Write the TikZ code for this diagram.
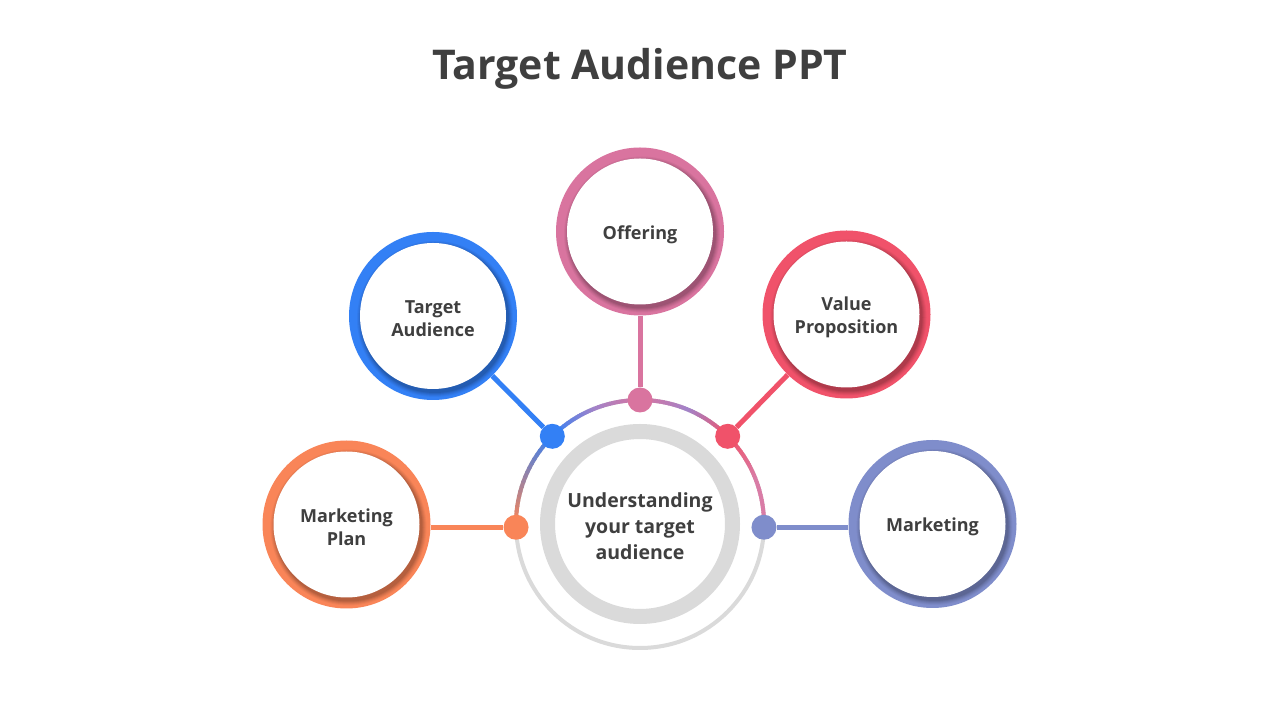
\documentclass[tikz,border=0pt]{standalone}
\usepackage{fontspec}
\setmainfont{Open Sans}
\usetikzlibrary{calc}
\definecolor{txt}{HTML}{3F3F3F}
\definecolor{cblue}{HTML}{3380F5}
\definecolor{cpink}{HTML}{D9749F}
\definecolor{cred}{HTML}{F0526A}
\definecolor{corange}{HTML}{F98558}
\definecolor{cpurple}{HTML}{7F8DCB}
\definecolor{clav}{HTML}{A283C9}
\definecolor{cpk2}{HTML}{D97CA6}
\definecolor{cgray}{HTML}{DADADA}
\newcommand\myarc[4]{%
  \foreach \k in {0,...,19}{%
    \pgfmathsetmacro\sa{#1+(#2-#1)*\k/20}%
    \pgfmathsetmacro\ea{#1+(#2-#1)*(\k+1.4)/20}%
    \pgfmathtruncatemacro\p{100-5*\k}%
    \draw[line width=4, draw=#3!\p!#4] (c.center) ++(\sa:124) arc[start angle=\sa, end angle=\ea, radius=124];
  }}
\tikzset{
  sat/.style={circle, minimum size=168, inner sep=0, fill=#1,
    path picture={
      \foreach \r/\o in {78/0.04,77/0.05,76/0.06,75/0.07,74/0.08}{
        \fill[black,opacity=\o] ([shift={(2,-3)}]path picture bounding box.center) circle (\r);}
      \fill[white] (path picture bounding box.center) circle (73);
    }},
  lbl/.style={align=center, inner sep=0, font=\bfseries\fontsize{18}{23}\selectfont, text=txt},
  dot/.style={circle, minimum size=25, inner sep=0, fill=#1},
  conn/.style={line width=5, draw=#1},
}
\begin{document}
\begin{tikzpicture}[x=1pt,y=1pt]
\useasboundingbox (0,0) rectangle (1280,720);
\fill[white] (0,0) rectangle (1280,720);
\node[font=\bfseries\fontsize{41}{50}\selectfont, text=txt] (title) at (640,651) {Target Audience PPT};
% center
\node[circle, minimum size=170, inner sep=0] (c) at (640,196) {};
\draw[line width=15, cgray] (c.center) circle (92.5);
\draw[line width=4, cgray] (c.center) circle (124);
\myarc{181.5}{135}{corange}{cblue}
\myarc{135}{112}{cblue}{clav}
\myarc{112}{90}{clav}{cpink}
\myarc{90}{68}{cpink}{clav}
\myarc{68}{45}{clav}{cred}
\myarc{45}{22}{cred}{cpk2}
\myarc{22}{-1.5}{cpk2}{cpk2}
\node[lbl, font=\bfseries\fontsize{19.5}{26}\selectfont] (ct) at ($(c.center)+(0,-2)$) {Understanding\\your target\\audience};
% satellites
\node[sat=cpink] (off) at (640,488.5) {};
\node[sat=cblue] (ta) at (433,404) {};
\node[sat=cred] (vp) at (846.5,405.5) {};
\node[sat=corange] (mp) at (346.5,195.5) {};
\node[sat=cpurple] (mk) at (932.5,196) {};
\node[lbl] (offt) at ($(off.center)+(0,-3)$) {Offering};
\node[lbl] (tat) at ($(ta.center)+(0,-2.5)$) {Target\\Audience};
\node[lbl] (vpt) at ($(vp.center)+(0,-3)$) {Value\\Proposition};
\node[lbl] (mpt) at ($(mp.center)+(0,-2.5)$) {Marketing\\Plan};
\node[lbl] (mkt) at ($(mk.center)+(0,-3)$) {Marketing};
% dots
\node[dot=cpink] (dpk) at ($(c.center)+(90:124)$) {};
\node[dot=cblue] (dbl) at ($(c.center)+(135:124)$) {};
\node[dot=cred] (drd) at ($(c.center)+(45:124)$) {};
\node[dot=corange] (dor) at ($(c.center)+(181.5:124)$) {};
\node[dot=cpurple] (dpu) at ($(c.center)+(-1.5:124)$) {};
% connectors
\draw[conn=cpink] (off) -- (dpk);
\draw[conn=cblue] (ta) -- (dbl);
\draw[conn=cred] (vp) -- (drd);
\draw[conn=corange] (dor) -- (dor -| mp.east);
\draw[conn=cpurple] (dpu) -- (dpu -| mk.west);
\end{tikzpicture}
\end{document}
